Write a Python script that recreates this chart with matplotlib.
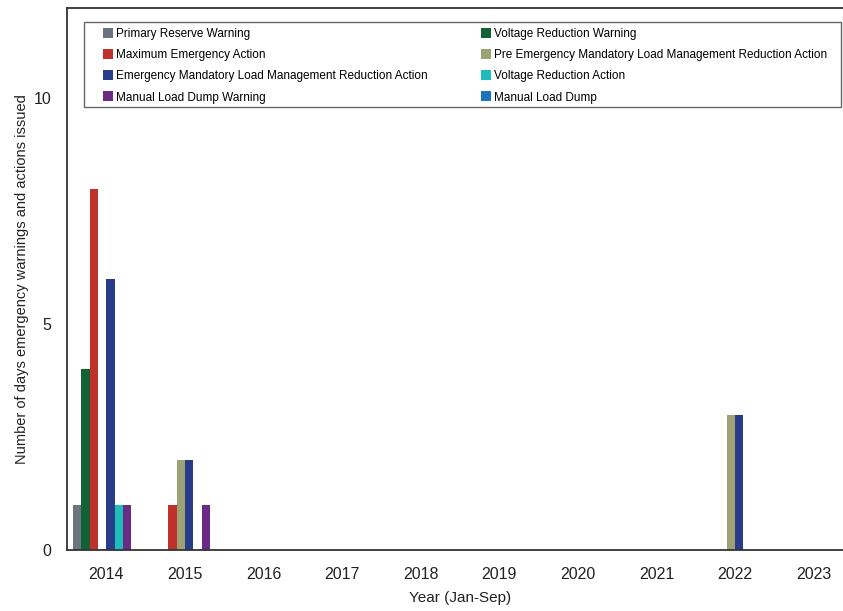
import numpy as np
import matplotlib
matplotlib.use('Agg')
from matplotlib import pyplot as plt
from matplotlib.lines import Line2D
from matplotlib.patches import Rectangle

plt.rcParams['font.family'] = ['Liberation Sans', 'DejaVu Sans']

years = ['2014', '2015', '2016', '2017', '2018', '2019', '2020', '2021', '2022', '2023']
series = ['Primary Reserve Warning', 'Voltage Reduction Warning',
          'Maximum Emergency Action',
          'Pre Emergency Mandatory Load Management Reduction Action',
          'Emergency Mandatory Load Management Reduction Action',
          'Voltage Reduction Action', 'Manual Load Dump Warning', 'Manual Load Dump']
primary_reserve = [1, 0, 0, 0, 0, 0, 0, 0, 0, 0]
voltage_warning = [4, 0, 0, 0, 0, 0, 0, 0, 0, 0]
max_emergency = [8, 1, 0, 0, 0, 0, 0, 0, 0, 0]
pre_emergency = [0, 2, 0, 0, 0, 0, 0, 0, 3, 0]
emergency_mlm = [6, 2, 0, 0, 0, 0, 0, 0, 3, 0]
voltage_action = [1, 0, 0, 0, 0, 0, 0, 0, 0, 0]
load_dump_warning = [1, 1, 0, 0, 0, 0, 0, 0, 0, 0]
load_dump = [0, 0, 0, 0, 0, 0, 0, 0, 0, 0]
values = [primary_reserve, voltage_warning, max_emergency, pre_emergency,
          emergency_mlm, voltage_action, load_dump_warning, load_dump]
colors = ['#6b7580', '#136235', '#c1312b', '#9da276', '#283c8a', '#1fbcbc',
          '#6a2a86', '#1a72b8']

W, H = 843, 611
fig = plt.figure(figsize=(W/100, H/100), dpi=100)
ax = fig.add_axes([67/W, (H-550)/H, 786/W, 542/H])

x = np.arange(len(years))
n = len(series)
bw = 0.845/n
for i, (name, vals, c) in enumerate(zip(series, values, colors)):
    ax.bar(x + (i - (n-1)/2)*bw, vals, bw, color=c, label=name, linewidth=0)

ax.set_xlim(-0.5, len(years)-0.5)
ax.set_ylim(0, 12)
ax.set_yticks([0, 5, 10])
ax.set_xticks(x)
ax.set_xticklabels(years)
ax.tick_params(length=0, labelsize=11.5, colors='#222222', pad=12)
ax.tick_params(axis='y', pad=11)
for s in ax.spines.values():
    s.set_color('#333333')
    s.set_linewidth(1.3)
ax.set_xlabel('Year (Jan-Sep)', fontsize=11, color='#222222', labelpad=7)
ax.set_ylabel('Number of days emergency warnings and actions issued', fontsize=10.5,
              color='#222222')
ax.yaxis.set_label_coords((29-67)/786, 0.5)

# legend: two frameless columns inside one drawn box (row order as in the source)
fig.add_artist(Rectangle((84/W, 1-107/H), 757/W, 85/H, transform=fig.transFigure,
                         fill=False, ec='#666666', lw=1.0))
for col, x0 in [([0, 2, 4, 6], 104), ([1, 3, 5, 7], 482)]:
    hs = [Line2D([], [], ls='none', marker='s', markersize=6.5, color=colors[k],
                 markeredgewidth=0) for k in col]
    fig.legend(hs, [series[k] for k in col], loc='upper left',
               bbox_to_anchor=(x0/W, 1-28/H), fontsize=8.5, frameon=False,
               handlelength=0.75, handletextpad=0.25, borderpad=0,
               labelspacing=0.78, borderaxespad=0)

fig.savefig('out.png', dpi=100)
